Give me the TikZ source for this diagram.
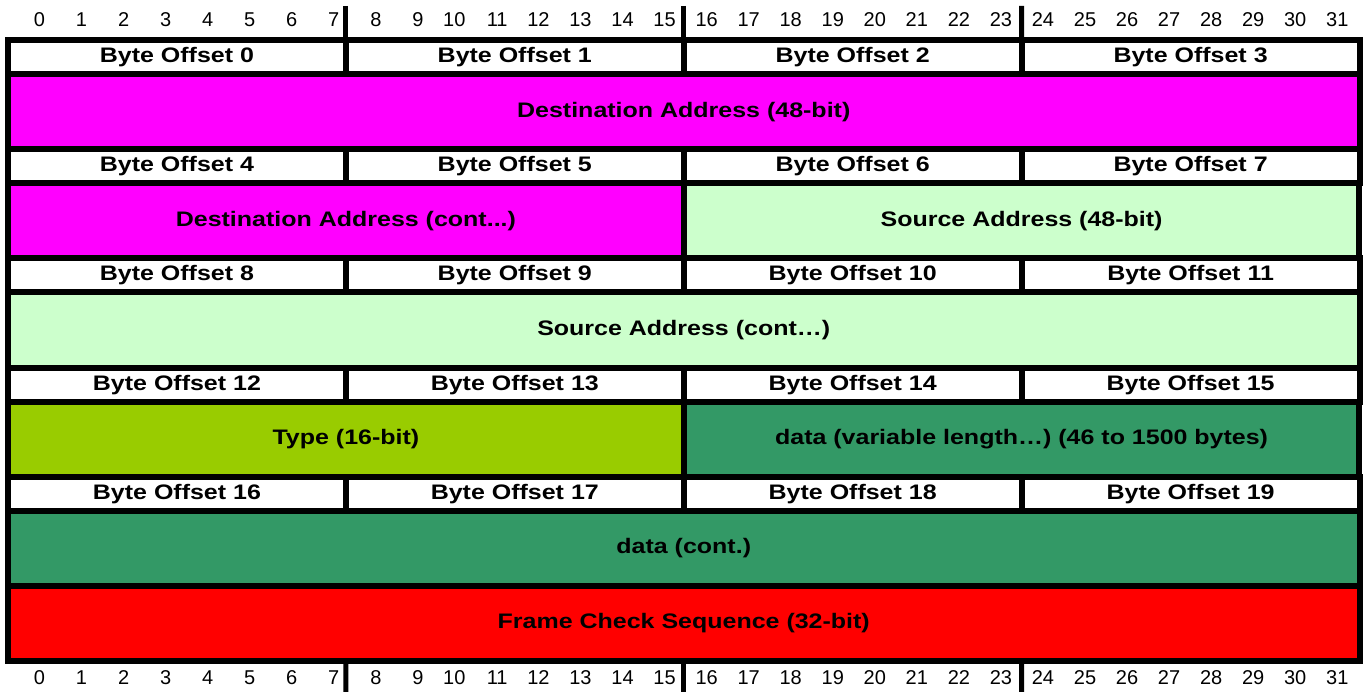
\documentclass[tikz,border=0pt]{standalone}
\usepackage{fontspec}
\setmainfont{Liberation Sans}
\usepackage{graphicx}
\usetikzlibrary{calc}
\definecolor{dstcol}{HTML}{FF00FF}
\definecolor{srccol}{HTML}{CCFFCC}
\definecolor{typecol}{HTML}{99CC00}
\definecolor{datacol}{HTML}{339966}
\definecolor{fcscol}{HTML}{FF0000}
% wide bold label text
\newcommand{\lbl}[1]{\scalebox{1.19}[1]{\bfseries #1}}
\tikzset{
  cellbox/.style={draw=black, line width=6pt, inner sep=0pt, outer sep=0pt,
    font=\fontsize{21}{23}\selectfont, text=black},
  bytecell/.style={cellbox, fill=white, minimum width=337.9pt, minimum height=34pt},
  halfcell/.style={cellbox, minimum width=675.75pt, minimum height=75.2pt},
  fullcell/.style={cellbox, minimum width=1351.5pt, minimum height=75.2pt},
  bitnum/.style={anchor=east, inner sep=0pt, font=\fontsize{20}{22}\selectfont},
  tick/.style={draw=black, line width=5pt}
}
\begin{document}
\begin{tikzpicture}[x=1pt, y=-1pt]
\useasboundingbox (0,0) rectangle (1367,692);
\fill[white] (0,0) rectangle (1367,692);

% byte offset rows
\foreach \r/\y in {0/57, 1/166.2, 2/275.4, 3/384.6, 4/493.8} {
  \foreach \c/\x in {0/176.95, 1/514.8, 2/852.7, 3/1190.6} {
    \pgfmathtruncatemacro{\n}{4*\r+\c}
    \node[bytecell] (b\n) at (\x,\y) {\lbl{Byte Offset \n}};
  }
}

% field rows
\node[fullcell, fill=dstcol] (dst) at (683.75,111.6) {\lbl{Destination Address (48-bit)}};
\node[halfcell, fill=dstcol] (dstc) at (345.9,220.8) {\lbl{Destination Address (cont...)}};
\node[halfcell, fill=srccol] (src) at (1021.6,220.8) {\lbl{Source Address (48-bit)}};
\node[fullcell, fill=srccol] (srcc) at (683.75,330) {\lbl{Source Address (cont…)}};
\node[halfcell, fill=typecol] (type) at (345.9,439.2) {\lbl{Type (16-bit)}};
\node[halfcell, fill=datacol] (data) at (1021.6,439.2) {\lbl{data (variable length…) (46 to 1500 bytes)}};
\node[fullcell, fill=datacol] (datac) at (683.75,548.4) {\lbl{data (cont.)}};
\node[fullcell, fill=fcscol, minimum height=74.5pt] (fcs) at (683.75,623.25) {\lbl{Frame Check Sequence (32-bit)}};

% byte boundary ticks above and below the frame
\coordinate (ta) at (345.9,6);
\coordinate (tb) at (683.75,6);
\coordinate (tc) at (1021.6,6);
\coordinate (ba) at (345.9,692);
\coordinate (bb) at (683.75,692);
\coordinate (bc) at (1021.6,692);
\draw[tick] (ta) -- (b0.north east);
\draw[tick] (tb) -- (b1.north east);
\draw[tick] (tc) -- (b2.north east);
\draw[tick] (ba) -- ($(fcs.south west)!0.25!(fcs.south east)$);
\draw[tick] (bb) -- (fcs.south);
\draw[tick] (bc) -- ($(fcs.south west)!0.75!(fcs.south east)$);

% bit numbers
\foreach \i in {0,...,31} {
  \pgfmathsetmacro{\xe}{8 + (\i+1)*42.234 - 5 - 0.19*\i}
  \node[bitnum] (top\i) at (\xe,20) {\i};
  \node[bitnum] (bot\i) at (\xe,678) {\i};
}
\end{tikzpicture}
\end{document}
